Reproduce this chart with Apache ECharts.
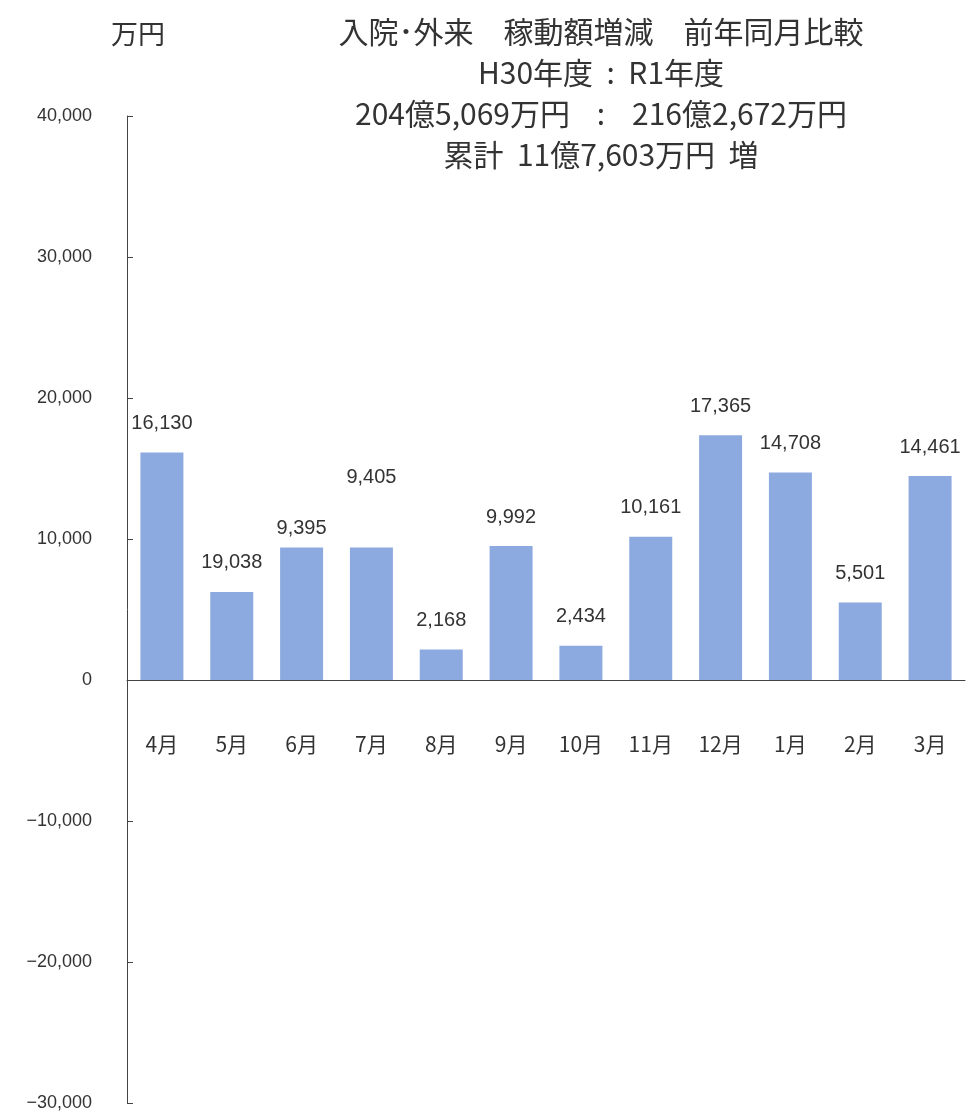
<!DOCTYPE html>
<html>
<head>
<meta charset="utf-8">
<script src="https://cdn.jsdelivr.net/npm/echarts@6/dist/echarts.min.js"></script>
<style>
  html, body { margin: 0; padding: 0; background: #fff; }
  #chart { width: 967px; height: 1117px; }
</style>
</head>
<body>
<div id="chart"></div>
<script>
// 月
const months = ['4月', '5月', '6月', '7月', '8月', '9月', '10月', '11月', '12月', '1月', '2月', '3月'];
// 棒の高さ (万円)
const barValues = [16130, 6250, 9395, 9405, 2168, 9500, 2434, 10161, 17365, 14708, 5501, 14461];
// 棒の上の表示ラベル
const labelTexts = ['16,130', '19,038', '9,395', '9,405', '2,168', '9,992', '2,434', '10,161', '17,365', '14,708', '5,501', '14,461'];
// ラベルの個別ずれ (px)
const labelShift = [0, 0, 10, -41, 0, 0, 0, 0, 0, 0, 0, 0];
const titleLines = [
  '入院･外来　稼動額増減　前年同月比較',
  'H30年度  :  R1年度',
  '204億5,069万円    :    216億2,672万円',
  '累計  11億7,603万円  増'
];

const jp = "'Noto Sans CJK JP', sans-serif";
const num = "'Liberation Sans', 'Noto Sans CJK JP', sans-serif";

const gridTop = 116;
const gridBottom = 14;
const chartH = 1117;
// 0の位置まで x軸 を持ち上げる
const plotH = chartH - gridTop - gridBottom;
const zeroOffset = -plotH * 3 / 7;

let myChart = echarts.init(document.getElementById('chart'));
myChart.setOption({
  animation: false,
  backgroundColor: '#fff',
  title: [
    {
      text: '万円',
      left: 106,
      top: 15,
      textStyle: { color: '#333', fontSize: 27, fontWeight: 'normal', fontFamily: jp }
    },
    {
      text: titleLines.join('\n'),
      left: 596,
      top: 6,
      textAlign: 'center',
      textStyle: { color: '#333', fontSize: 30, fontWeight: 'normal', fontFamily: jp, lineHeight: 41 }
    }
  ],
  grid: {
    left: 127,
    right: 2,
    top: gridTop,
    bottom: gridBottom,
    containLabel: false,
    outerBoundsMode: 'none'
  },
  xAxis: {
    type: 'category',
    data: months,
    offset: zeroOffset,
    axisLine: { onZero: false, lineStyle: { color: '#444', width: 1 } },
    axisTick: { inside: true, length: 6, lineStyle: { color: '#444' } },
    axisLabel: { color: '#333', fontSize: 21, fontFamily: jp, margin: 54 }
  },
  yAxis: {
    type: 'value',
    min: -30000,
    max: 40000,
    interval: 10000,
    axisLine: { show: true, lineStyle: { color: '#444', width: 1 } },
    axisTick: { show: true, inside: true, length: 6, lineStyle: { color: '#444' } },
    splitLine: { show: false },
    axisLabel: {
      color: '#333',
      fontSize: 18,
      fontFamily: num,
      margin: 35,
      formatter: (v) => v.toLocaleString('en-US').replace('-', '−')
    }
  },
  series: [
    {
      type: 'bar',
      barWidth: 43,
      itemStyle: { color: '#8DAAE0' },
      data: barValues.map((v, i) => ({
        value: v,
        label: { offset: [0, labelShift[i]] }
      })),
      label: {
        show: true,
        position: 'top',
        distance: 19,
        color: '#333',
        fontSize: 20,
        fontFamily: num,
        formatter: (p) => labelTexts[p.dataIndex]
      }
    }
  ]
});
</script>
</body>
</html>
